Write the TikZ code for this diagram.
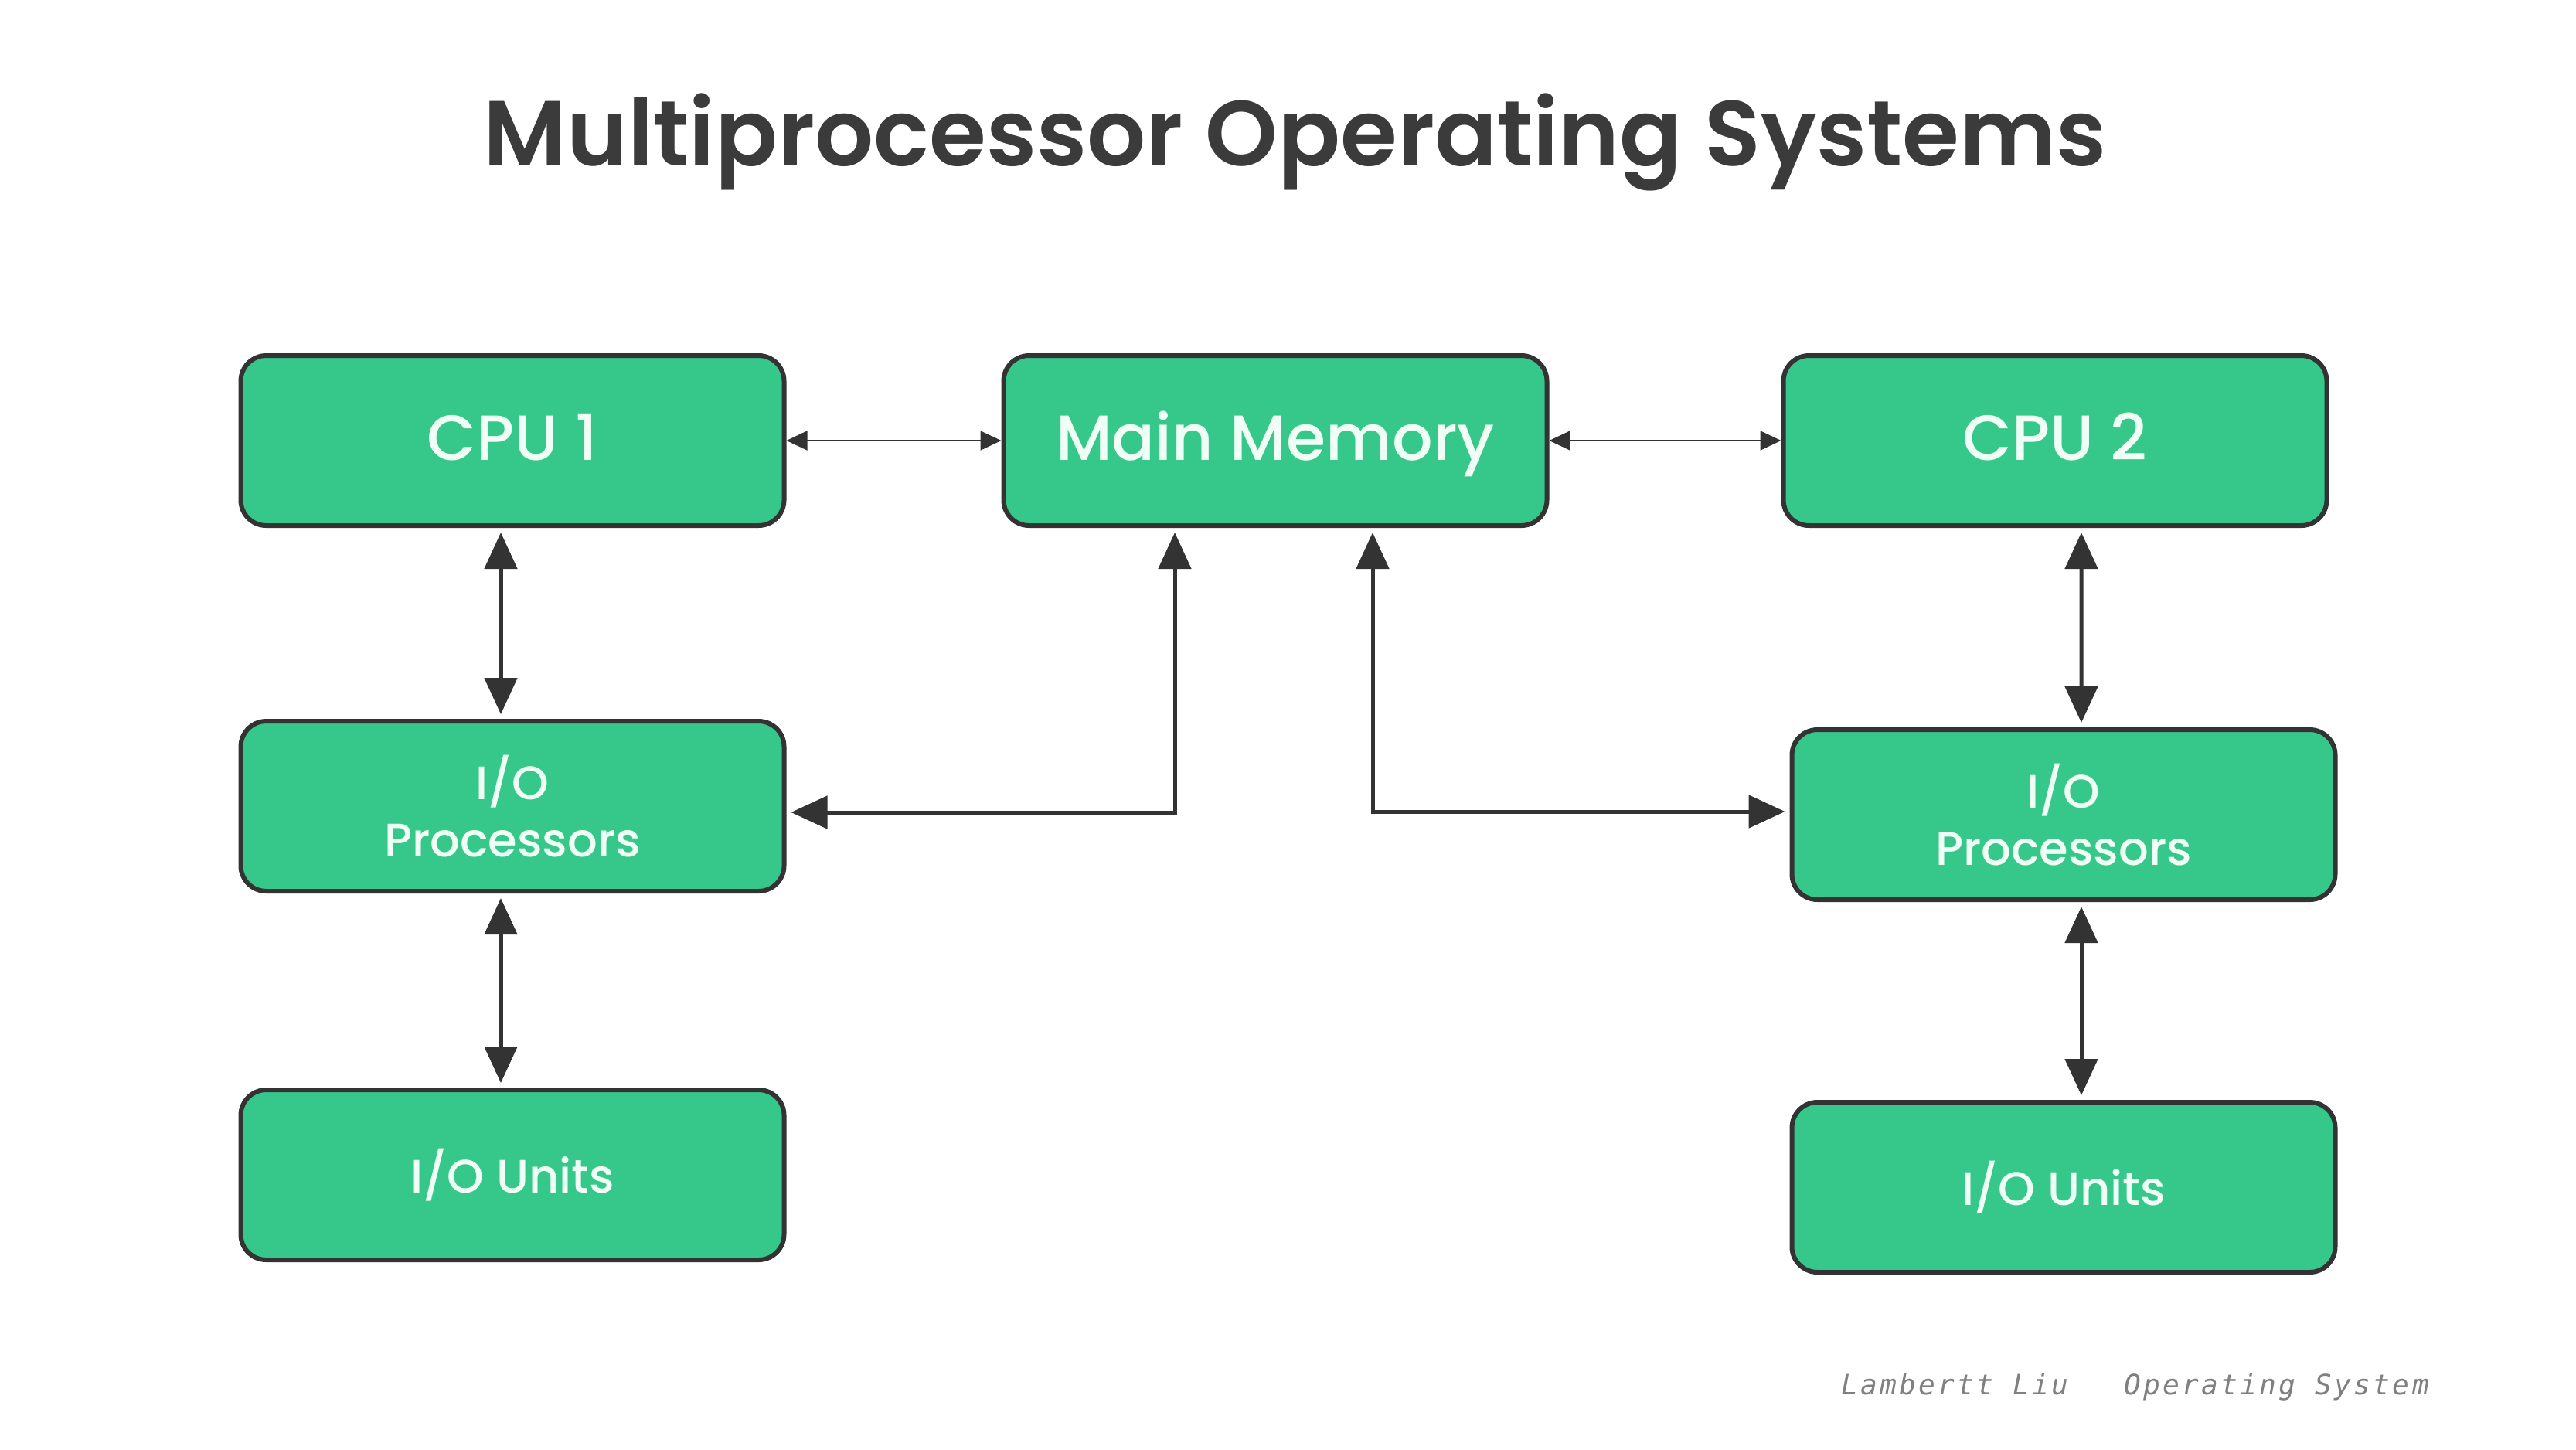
\documentclass[tikz,border=0pt]{standalone}
\usepackage{fontspec}
\setmainfont{Poppins}
\newfontfamily\boxfont{Poppins Medium}
\newfontfamily\titlefont{Poppins SemiBold}
\newfontfamily\footfont{DejaVu Sans Mono}[LetterSpace=9]
\usepackage{tikz}
\usetikzlibrary{positioning,arrows.meta}
\definecolor{boxgreen}{RGB}{54,199,138}
\definecolor{edgegray}{RGB}{51,51,51}
\definecolor{labelwhite}{RGB}{240,255,246}
\definecolor{titlegray}{RGB}{59,59,59}
\tikzset{
  basic/.style = {draw=edgegray, line width=0.06cm, fill=boxgreen, rounded corners=0.33cm,
                  text=labelwhite, align=center, minimum width=7.03cm, minimum height=2.2cm},
  unit/.style  = {basic, font=\boxfont\fontsize{23.5}{28}\selectfont, text height=0.5cm, text depth=0cm},
  sub/.style   = {basic, font=\boxfont\fontsize{17.3}{21.3}\selectfont},
  post/.style  = {{Triangle[length=0.47cm,width=0.42cm]}-{Triangle[length=0.47cm,width=0.42cm]},
                  line width=0.05cm, draw=edgegray, shorten <=0.06cm, shorten >=0.06cm},
  arc/.style   = {{Triangle[length=0.27cm,width=0.25cm]}-{Triangle[length=0.27cm,width=0.25cm]},
                  line width=0.018cm, draw=edgegray}
}
\begin{document}
\begin{tikzpicture}
\useasboundingbox (0,0) rectangle (33.33,-18.75);
\node[font=\titlefont\fontsize{34}{40}\selectfont, text=titlegray, anchor=base] (title)
     at (16.76,-2.14) {Multiprocessor Operating Systems};
\node[unit] (cpu1) at (6.63,-5.70) {CPU 1};
\node[unit, right=2.78cm of cpu1] (mem) {Main Memory};
\node[unit, right=3.00cm of mem] (cpu2) {CPU 2};
\node[sub, below=2.47cm of cpu1] (iop1) {I/O\\Processors};
\node[sub, below=2.51cm of iop1] (iou1) {I/O Units};
\node[sub, below=2.58cm of cpu2, xshift=0.11cm] (iop2) {I/O\\Processors};
\node[sub, below=2.56cm of iop2] (iou2) {I/O Units};
% links
\draw[arc] (cpu1) -- (mem);
\draw[arc] (mem) -- (cpu2);
\draw[post] ([xshift=-0.15cm]cpu1.south) -- ([xshift=-0.15cm]iop1.north);
\draw[post] ([xshift=-0.15cm]iop1.south) -- ([xshift=-0.15cm]iou1.north);
\draw[post] ([xshift=0.34cm]cpu2.south) -- ([xshift=0.23cm]iop2.north);
\draw[post] ([xshift=0.23cm]iop2.south) -- ([xshift=0.23cm]iou2.north);
\draw[post] ([xshift=-1.30cm]mem.south) |- ([yshift=-0.08cm]iop1.east);
\draw[post] ([xshift=1.26cm]mem.south) |- ([yshift=0.04cm]iop2.west);
\node[font=\footfont\itshape\fontsize{10.3}{12}\selectfont, text=gray, anchor=base west] (credit)
     at (23.70,-18.04) {Lambertt Liu\hspace{0.72cm}Operating System};
\end{tikzpicture}
\end{document}
